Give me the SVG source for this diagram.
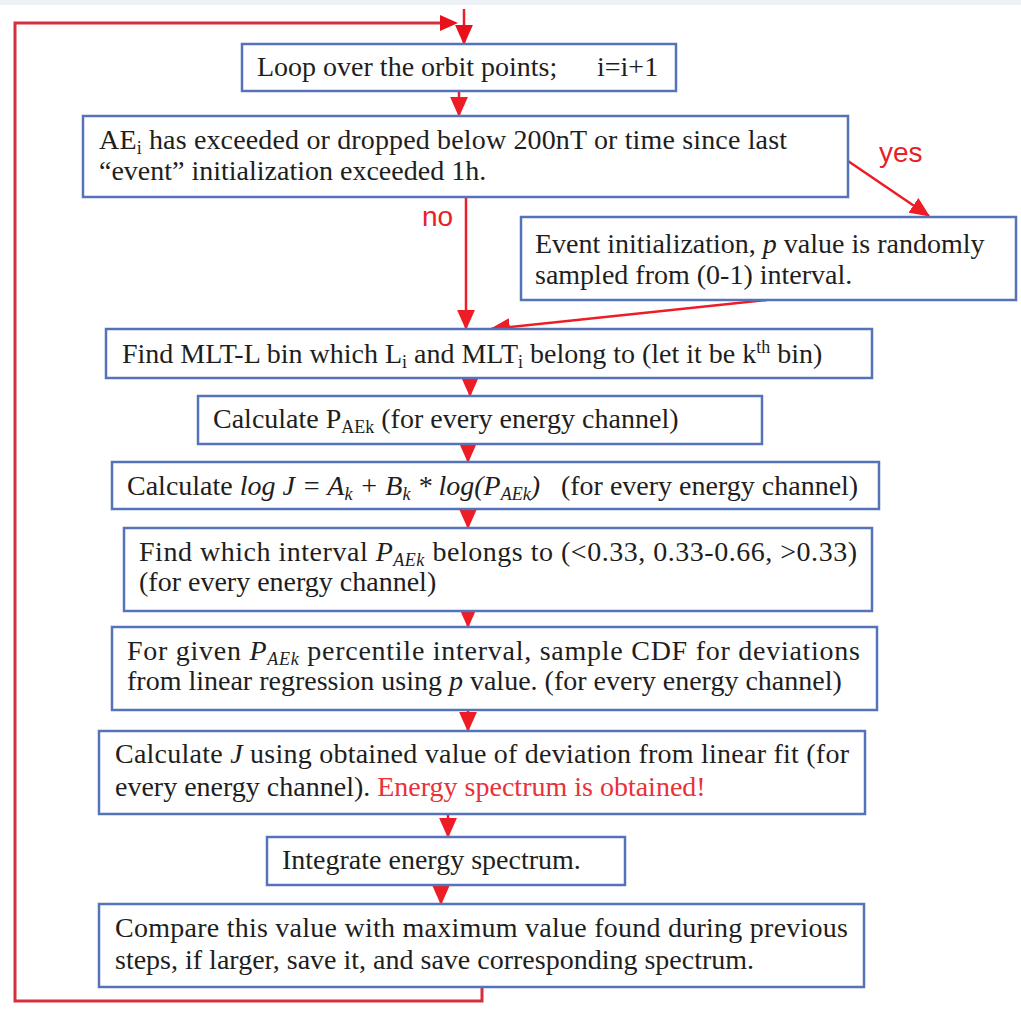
<svg xmlns="http://www.w3.org/2000/svg" width="1021" height="1016" viewBox="0 0 1021 1016">
<style>
.box{fill:#ffffff;stroke:#5573b8;stroke-width:2.5}
.t{font-family:"Liberation Serif","Times New Roman",serif;font-size:28px;fill:#1e1e1e}
.it{font-style:italic}
.red{fill:#e8313a}
.lbl{font-family:"Liberation Sans",Arial,sans-serif;font-size:28px;fill:#e8202a}
.ar{fill:none;stroke:#ee1c25;stroke-width:2.5}
.loop{fill:none;stroke:#d42f3c;stroke-width:3}
</style>
<defs>
<marker id="ah" markerUnits="userSpaceOnUse" markerWidth="20" markerHeight="18" refX="17" refY="8" orient="auto" viewBox="0 0 18 16">
<path d="M0,0 L18,8 L0,16 z" fill="#ee1c25"/>
</marker>
<marker id="ah2" markerUnits="userSpaceOnUse" markerWidth="20" markerHeight="18" refX="17" refY="8" orient="auto" viewBox="0 0 18 16">
<path d="M0,0 L18,8 L0,16 z" fill="#e8101a"/>
</marker>
</defs>
<rect x="0" y="0" width="1021" height="1016" fill="#ffffff"/>
<rect x="0" y="0" width="1021" height="5" fill="#eef2f7"/>

<g id="connectors">
<path class="loop" d="M482,987 V1001 H15 V23 H442"/>
<path d="M440,15 L458,23 L440,31 z" fill="#e8101a"/>
<path class="ar" d="M464,9 V44" marker-end="url(#ah2)"/>
<path class="ar" d="M459,91 V116" marker-end="url(#ah)"/>
<path class="ar" d="M466,197 V329" marker-end="url(#ah)"/>
<path class="ar" d="M848,161 L929,216" marker-end="url(#ah)"/>
<path class="ar" d="M767,300 L491,329" marker-end="url(#ah)"/>
<path class="ar" d="M470,378 V396" marker-end="url(#ah)"/>
<path class="ar" d="M468,444 V462" marker-end="url(#ah)"/>
<path class="ar" d="M468,509 V528" marker-end="url(#ah)"/>
<path class="ar" d="M468,611 V627" marker-end="url(#ah)"/>
<path class="ar" d="M468,710 V731" marker-end="url(#ah)"/>
<path class="ar" d="M448,814 V837" marker-end="url(#ah)"/>
<path class="ar" d="M441,885 V904" marker-end="url(#ah)"/>
<text class="lbl" x="879" y="162">yes</text>
<text class="lbl" x="422" y="226">no</text>
</g>

<g id="n1">
<rect class="box" x="242" y="44" width="434" height="47"/>
<text class="t" x="257" y="76">Loop over the orbit points;</text>
<text class="t" x="597" y="76">i=i+1</text>
</g>

<g id="n2">
<rect class="box" x="83" y="116" width="765" height="81"/>
<text class="t" x="99" y="149" textLength="688" lengthAdjust="spacing">AE<tspan font-size="18" dy="5">i</tspan><tspan dy="-5"> has exceeded or dropped below 200nT or time since last</tspan></text>
<text class="t" x="99" y="180">“event” initialization exceeded 1h.</text>
</g>

<g id="n3">
<rect class="box" x="521" y="217" width="495" height="83"/>
<text class="t" x="535" y="253">Event initialization, <tspan class="it">p</tspan> value is randomly</text>
<text class="t" x="535" y="284">sampled from (0-1) interval.</text>
</g>

<g id="n4">
<rect class="box" x="106" y="329" width="766" height="49"/>
<text class="t" x="122" y="363">Find MLT-L bin which L<tspan font-size="18" dy="5">i</tspan><tspan dy="-5"> and MLT</tspan><tspan font-size="18" dy="5">i</tspan><tspan dy="-5"> belong to (let it be k</tspan><tspan font-size="18" dy="-10">th</tspan><tspan dy="10"> bin)</tspan></text>
</g>

<g id="n5">
<rect class="box" x="198" y="396" width="564" height="48"/>
<text class="t" x="213" y="428">Calculate P<tspan font-size="18" dy="5">AEk</tspan><tspan dy="-5"> (for every energy channel)</tspan></text>
</g>

<g id="n6">
<rect class="box" x="112" y="462" width="767" height="47"/>
<text class="t" x="127" y="495">Calculate <tspan class="it">log J = A</tspan><tspan class="it" font-size="18" dy="5">k</tspan><tspan class="it" dy="-5"> + B</tspan><tspan class="it" font-size="18" dy="5">k</tspan><tspan class="it" dy="-5"> * log(P</tspan><tspan class="it" font-size="18" dy="5">AEk</tspan><tspan class="it" dy="-5">)</tspan><tspan dx="14"> (for every energy channel)</tspan></text>
</g>

<g id="n7">
<rect class="box" x="124" y="528" width="748" height="83"/>
<text class="t" x="139" y="561" textLength="718" lengthAdjust="spacing">Find which interval <tspan class="it">P</tspan><tspan class="it" font-size="18" dy="5">AEk</tspan><tspan dy="-5"> belongs to (&lt;0.33, 0.33-0.66, &gt;0.33)</tspan></text>
<text class="t" x="139" y="591">(for every energy channel)</text>
</g>

<g id="n8">
<rect class="box" x="112" y="627" width="765" height="83"/>
<text class="t" x="127" y="660" textLength="733" lengthAdjust="spacing">For given <tspan class="it">P</tspan><tspan class="it" font-size="18" dy="5">AEk</tspan><tspan dy="-5"> percentile interval, sample CDF for deviations</tspan></text>
<text class="t" x="127" y="690">from linear regression using <tspan class="it">p</tspan> value. (for every energy channel)</text>
</g>

<g id="n9">
<rect class="box" x="99" y="731" width="766" height="83"/>
<text class="t" x="115" y="763" textLength="734" lengthAdjust="spacing">Calculate <tspan class="it">J</tspan> using obtained value of deviation from linear fit (for</text>
<text class="t" x="115" y="796">every energy channel). <tspan class="red">Energy spectrum is obtained!</tspan></text>
</g>

<g id="n10">
<rect class="box" x="267" y="837" width="358" height="48"/>
<text class="t" x="282" y="869">Integrate energy spectrum.</text>
</g>

<g id="n11">
<rect class="box" x="99" y="904" width="765" height="83"/>
<text class="t" x="115" y="937" textLength="733" lengthAdjust="spacing">Compare this value with maximum value found during previous</text>
<text class="t" x="115" y="969">steps, if larger, save it, and save corresponding spectrum.</text>
</g>
</svg>
